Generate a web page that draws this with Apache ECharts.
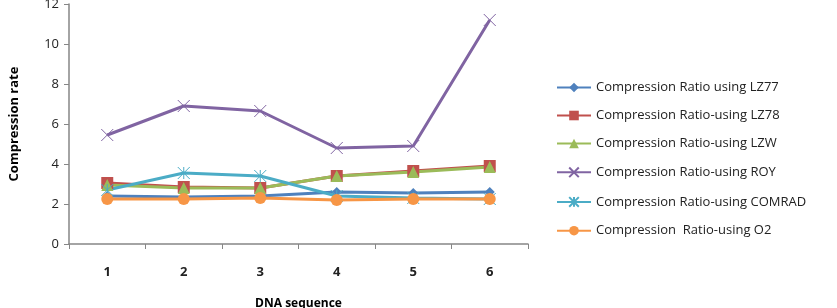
<!DOCTYPE html>
<html>
<head>
<meta charset="utf-8">
<script src="https://cdn.jsdelivr.net/npm/echarts@6/dist/echarts.min.js"></script>
<style>
  html, body { margin: 0; padding: 0; background: #fff; }
  #chart { width: 837px; height: 308px; }
</style>
</head>
<body>
<div id="chart"></div>
<script>
var categories = ['1', '2', '3', '4', '5', '6'];
var lz77   = [2.4, 2.35, 2.4, 2.6, 2.55, 2.6];
var lz78   = [3.05, 2.85, 2.8, 3.4, 3.65, 3.9];
var lzw    = [2.95, 2.8, 2.8, 3.4, 3.6, 3.85];
var roy    = [5.45, 6.9, 6.65, 4.8, 4.9, 11.2];
var comrad = [2.7, 3.55, 3.4, 2.4, 2.3, 2.25];
var o2     = [2.25, 2.25, 2.3, 2.2, 2.25, 2.25];
var names = [
    'Compression Ratio using LZ77',
    'Compression Ratio-using LZ78',
    'Compression Ratio-using LZW',
    'Compression Ratio-using ROY',
    'Compression Ratio-using COMRAD',
    'Compression  Ratio-using O2'
];

var font = 'Open Sans';
function line(name, data, color, symbol, size) {
    return {
        name: name,
        type: 'line',
        data: data,
        symbol: symbol,
        symbolSize: size,
        lineStyle: { color: color, width: 3 },
        itemStyle: { color: color },
        z: 2
    };
}
// cross / star markers as paths
var crossPath = 'path://M0,0 L10,10 M10,0 L0,10';
var starPath = 'path://M0,0 L10,10 M10,0 L0,10 M5,0 L5,10';

var series = [
    line(names[0], lz77, '#4F81BD', 'diamond', 10),
    line(names[1], lz78, '#C0504D', 'rect', 12),
    line(names[2], lzw, '#9BBB59', 'triangle', 12),
    line(names[3], roy, '#8064A2', crossPath, 12),
    line(names[4], comrad, '#4BACC6', starPath, 12),
    line(names[5], o2, '#F79646', 'circle', 12)
];
// outline-only markers for the cross-type ones
series[3].itemStyle = { color: 'none', borderColor: '#8064A2', borderWidth: 1 };
series[4].itemStyle = { color: 'none', borderColor: '#4BACC6', borderWidth: 1 };

var option = {
    animation: false,
    textStyle: { fontFamily: font },
    grid: { left: 69, right: 309, top: 4, bottom: 64, outerBoundsMode: 'none' },
    legend: {
        orient: 'vertical',
        left: 551,
        top: 76,
        itemGap: 15,
        itemWidth: 34,
        itemHeight: 12,
        textStyle: { fontFamily: font, fontSize: 13, color: '#222' },
        data: names
    },
    xAxis: {
        type: 'category',
        data: categories,
        boundaryGap: true,
        name: 'DNA sequence',
        nameLocation: 'middle',
        nameGap: 54,
        nameTextStyle: { fontFamily: font, fontWeight: 'bold', fontSize: 12, color: '#000' },
        axisLine: { lineStyle: { color: '#868686', width: 1.5 } },
        axisTick: { show: true, alignWithLabel: false, length: 5, lineStyle: { color: '#868686' } },
        axisLabel: { color: '#222', fontSize: 13, fontWeight: 'bold', margin: 22 }
    },
    yAxis: {
        type: 'value',
        min: 0,
        max: 12,
        interval: 2,
        name: 'Compression rate',
        nameLocation: 'middle',
        nameGap: 48,
        nameTextStyle: { fontFamily: font, fontWeight: 'bold', fontSize: 13, color: '#000' },
        axisLine: { show: true, lineStyle: { color: '#868686', width: 1.5 } },
        axisTick: { show: true, length: 5, lineStyle: { color: '#868686' } },
        splitLine: { show: false },
        axisLabel: { color: '#222', fontSize: 13, margin: 10 }
    },
    series: series
};

var chart = echarts.init(document.getElementById('chart'));
chart.setOption(option);
</script>
</body>
</html>
